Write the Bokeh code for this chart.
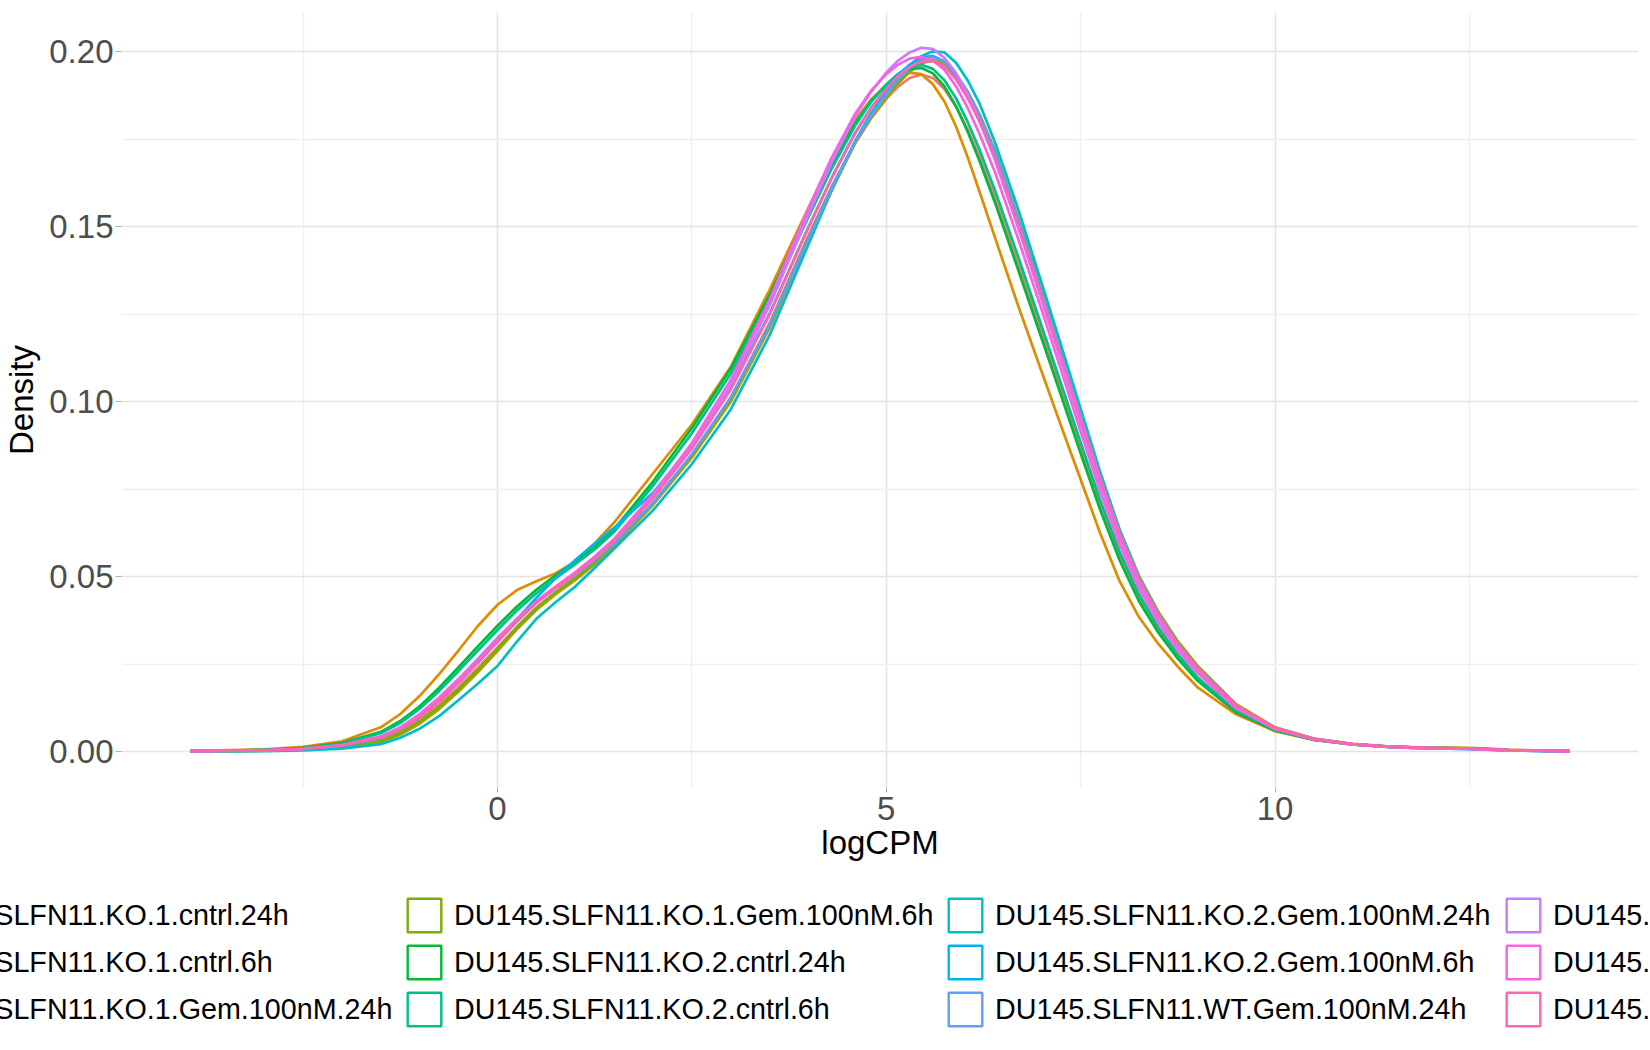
from bokeh.plotting import figure
from bokeh.layouts import column
from bokeh.models import Range1d, FixedTicker, PrintfTickFormatter, Legend, LegendItem
from bokeh.embed import file_html
from bokeh.resources import INLINE

# logCPM grid the densities were read at
logcpm = [-3.95, -3.0, -2.5, -2.0, -1.5, -1.25, -1.0, -0.75, -0.5, -0.25, 0.0, 0.25, 0.5, 0.75,
          1.0, 1.25, 1.5, 2.0, 2.5, 3.0, 3.5, 4.0, 4.3, 4.6, 4.8, 5.0, 5.15, 5.3, 5.45, 5.6,
          5.75, 5.9, 6.05, 6.2, 6.4, 6.7, 7.0, 7.25, 7.5, 7.75, 8.0, 8.25, 8.5, 8.75, 9.0,
          9.5, 10.0, 10.5, 11.0, 11.5, 12.0, 12.5, 13.0, 13.79]

samples = [
    "DU145.SLFN11.KO.1.cntrl.24h",
    "DU145.SLFN11.KO.1.cntrl.6h",
    "DU145.SLFN11.KO.1.Gem.100nM.24h",
    "DU145.SLFN11.KO.1.Gem.100nM.6h",
    "DU145.SLFN11.KO.2.cntrl.24h",
    "DU145.SLFN11.KO.2.cntrl.6h",
    "DU145.SLFN11.KO.2.Gem.100nM.24h",
    "DU145.SLFN11.KO.2.Gem.100nM.6h",
    "DU145.SLFN11.WT.Gem.100nM.24h",
    "DU145.SLFN11.WT.Gem.100nM.6h",
    "DU145.SLFN11.WT.cntrl.24h",
    "DU145.SLFN11.WT.cntrl.6h",
]

colors = ["#F8766D", "#DE8C00", "#B79F00", "#7CAE00", "#00BA38", "#00C08B",
          "#00BFC4", "#00B4F0", "#619CFF", "#C77CFF", "#F564E3", "#FF64B0"]

# density per sample, same order as logcpm
ko1_cntrl_24h = [0.0002, 0.0004, 0.0007, 0.0015, 0.0035, 0.0058, 0.0092, 0.0135, 0.0185, 0.0240, 0.0298,
                 0.0357, 0.0412, 0.0458, 0.0500, 0.0545, 0.0595,
                 0.0710, 0.0848, 0.1012, 0.1225, 0.1475,
                 0.1615, 0.1740, 0.1810, 0.1866, 0.1900, 0.1925, 0.1935, 0.1925, 0.1893, 0.1842, 0.1777,
                 0.1700, 0.1582, 0.1390, 0.1195,
                 0.1030, 0.0865, 0.0703, 0.0558, 0.0438, 0.0346, 0.0270, 0.0208,
                 0.0117, 0.0062, 0.0035, 0.0021, 0.0014, 0.0011, 0.0009, 0.0005, 0.0002]
ko1_cntrl_6h = [0.0003, 0.0007, 0.0014, 0.0030, 0.0070, 0.0108, 0.0160, 0.0222, 0.0290, 0.0360, 0.0420,
                0.0462, 0.0487, 0.0510, 0.0543, 0.0595, 0.0655,
                0.0795, 0.0935, 0.1100, 0.1320, 0.1555,
                0.1695, 0.1805, 0.1862, 0.1905, 0.1928, 0.1940, 0.1936, 0.1907, 0.1857, 0.1785, 0.1697,
                0.1600, 0.1468, 0.1272, 0.1085,
                0.0930, 0.0778, 0.0625, 0.0488, 0.0385, 0.0308, 0.0243, 0.0185,
                0.0107, 0.0059, 0.0034, 0.0021, 0.0014, 0.0011, 0.0010, 0.0005, 0.0002]
ko1_gem_24h = [0.0001, 0.0003, 0.0006, 0.0012, 0.0028, 0.0049, 0.0080, 0.0122, 0.0172, 0.0228, 0.0288,
               0.0350, 0.0405, 0.0450, 0.0490, 0.0535, 0.0587,
               0.0705, 0.0840, 0.1000, 0.1210, 0.1460,
               0.1605, 0.1738, 0.1808, 0.1866, 0.1908, 0.1942, 0.1967, 0.1977, 0.1966, 0.1934, 0.1885,
               0.1822, 0.1718, 0.1525, 0.1320,
               0.1145, 0.0970, 0.0795, 0.0635, 0.0503, 0.0400, 0.0316, 0.0247,
               0.0136, 0.0070, 0.0038, 0.0023, 0.0015, 0.0012, 0.0011, 0.0006, 0.0002]
ko1_gem_6h = [0.0002, 0.0003, 0.0007, 0.0014, 0.0031, 0.0053, 0.0086, 0.0128, 0.0178, 0.0234, 0.0294,
              0.0355, 0.0410, 0.0455, 0.0495, 0.0540, 0.0592,
              0.0710, 0.0846, 0.1008, 0.1220, 0.1470,
              0.1612, 0.1744, 0.1814, 0.1872, 0.1913, 0.1946, 0.1968, 0.1974, 0.1960, 0.1925, 0.1873,
              0.1808, 0.1703, 0.1510, 0.1305,
              0.1130, 0.0955, 0.0782, 0.0625, 0.0495, 0.0394, 0.0311, 0.0243,
              0.0134, 0.0069, 0.0037, 0.0022, 0.0014, 0.0011, 0.0010, 0.0005, 0.0002]
ko2_cntrl_24h = [0.0002, 0.0005, 0.0011, 0.0025, 0.0057, 0.0088, 0.0130, 0.0183, 0.0242, 0.0302, 0.0360,
                 0.0415, 0.0463, 0.0505, 0.0543, 0.0585, 0.0636,
                 0.0772, 0.0925, 0.1095, 0.1305, 0.1540,
                 0.1677, 0.1795, 0.1858, 0.1905, 0.1932, 0.1950, 0.1954, 0.1938, 0.1900, 0.1843, 0.1770,
                 0.1688, 0.1568, 0.1375, 0.1180,
                 0.1017, 0.0853, 0.0692, 0.0548, 0.0430, 0.0340, 0.0266, 0.0204,
                 0.0113, 0.0061, 0.0034, 0.0021, 0.0014, 0.0011, 0.0010, 0.0005, 0.0002]
ko2_cntrl_6h = [0.0002, 0.0005, 0.0010, 0.0023, 0.0053, 0.0082, 0.0123, 0.0174, 0.0231, 0.0290, 0.0348,
                0.0404, 0.0453, 0.0496, 0.0536, 0.0578, 0.0628,
                0.0760, 0.0910, 0.1080, 0.1290, 0.1528,
                0.1667, 0.1789, 0.1855, 0.1906, 0.1936, 0.1956, 0.1963, 0.1951, 0.1918, 0.1866, 0.1798,
                0.1720, 0.1603, 0.1412, 0.1215,
                0.1050, 0.0884, 0.0720, 0.0572, 0.0450, 0.0355, 0.0278, 0.0213,
                0.0118, 0.0063, 0.0035, 0.0021, 0.0014, 0.0011, 0.0009, 0.0005, 0.0002]
ko2_gem_24h = [0.0001, 0.0002, 0.0004, 0.0009, 0.0022, 0.0040, 0.0066, 0.0102, 0.0148, 0.0195, 0.0245,
               0.0315, 0.0380, 0.0428, 0.0472, 0.0525, 0.0580,
               0.0690, 0.0822, 0.0978, 0.1190, 0.1450,
               0.1605, 0.1745, 0.1822, 0.1886, 0.1929, 0.1962, 0.1987, 0.2001, 0.1998, 0.1968, 0.1917,
               0.1852, 0.1740, 0.1548, 0.1338,
               0.1160, 0.0980, 0.0800, 0.0635, 0.0500, 0.0395, 0.0310, 0.0240,
               0.0132, 0.0068, 0.0037, 0.0021, 0.0013, 0.0010, 0.0008, 0.0004, 0.0001]
ko2_gem_6h = [0.0002, 0.0004, 0.0008, 0.0017, 0.0039, 0.0064, 0.0100, 0.0145, 0.0198, 0.0255, 0.0315,
              0.0378, 0.0440, 0.0497, 0.0548, 0.0595, 0.0640,
              0.0740, 0.0875, 0.1040, 0.1252, 0.1500,
              0.1640, 0.1768, 0.1838, 0.1895, 0.1934, 0.1963, 0.1983, 0.1988, 0.1972, 0.1934, 0.1880,
              0.1813, 0.1707, 0.1512, 0.1305,
              0.1130, 0.0955, 0.0782, 0.0624, 0.0493, 0.0390, 0.0306, 0.0238,
              0.0130, 0.0067, 0.0036, 0.0021, 0.0013, 0.0010, 0.0008, 0.0004, 0.0001]
wt_gem_24h = [0.0002, 0.0004, 0.0008, 0.0018, 0.0042, 0.0068, 0.0106, 0.0153, 0.0207, 0.0266, 0.0325,
              0.0380, 0.0428, 0.0468, 0.0505, 0.0547, 0.0595,
              0.0712, 0.0850, 0.1012, 0.1220, 0.1465,
              0.1610, 0.1742, 0.1815, 0.1877, 0.1920, 0.1954, 0.1976, 0.1985, 0.1972, 0.1936, 0.1884,
              0.1818, 0.1713, 0.1518, 0.1310,
              0.1135, 0.0960, 0.0787, 0.0628, 0.0497, 0.0393, 0.0309, 0.0240,
              0.0131, 0.0068, 0.0036, 0.0021, 0.0013, 0.0010, 0.0008, 0.0004, 0.0001]
wt_gem_6h = [0.0002, 0.0004, 0.0008, 0.0018, 0.0041, 0.0066, 0.0103, 0.0148, 0.0200, 0.0256, 0.0315,
             0.0372, 0.0425, 0.0468, 0.0508, 0.0553, 0.0603,
             0.0727, 0.0872, 0.1048, 0.1275, 0.1535,
             0.1685, 0.1815, 0.1884, 0.1940, 0.1974, 0.1998, 0.2011, 0.2008, 0.1982, 0.1938, 0.1876,
             0.1802, 0.1690, 0.1495, 0.1290,
             0.1115, 0.0938, 0.0765, 0.0608, 0.0480, 0.0380, 0.0298, 0.0232,
             0.0127, 0.0066, 0.0036, 0.0021, 0.0013, 0.0010, 0.0008, 0.0004, 0.0001]
wt_cntrl_24h = [0.0002, 0.0004, 0.0009, 0.0019, 0.0044, 0.0070, 0.0108, 0.0155, 0.0208, 0.0264, 0.0322,
                0.0378, 0.0430, 0.0473, 0.0513, 0.0558, 0.0608,
                0.0735, 0.0882, 0.1062, 0.1292, 0.1552,
                0.1698, 0.1823, 0.1887, 0.1936, 0.1963, 0.1980, 0.1985, 0.1976, 0.1948, 0.1900, 0.1838,
                0.1765, 0.1655, 0.1463, 0.1262,
                0.1090, 0.0915, 0.0745, 0.0592, 0.0467, 0.0369, 0.0290, 0.0226,
                0.0124, 0.0065, 0.0035, 0.0021, 0.0014, 0.0011, 0.0009, 0.0005, 0.0002]
wt_cntrl_6h = [0.0002, 0.0004, 0.0008, 0.0018, 0.0040, 0.0065, 0.0101, 0.0146, 0.0198, 0.0255, 0.0315,
               0.0373, 0.0427, 0.0470, 0.0508, 0.0552, 0.0602,
               0.0725, 0.0866, 0.1035, 0.1250, 0.1498,
               0.1640, 0.1768, 0.1837, 0.1893, 0.1930, 0.1957, 0.1971, 0.1974, 0.1958, 0.1920, 0.1866,
               0.1800, 0.1696, 0.1503, 0.1300,
               0.1127, 0.0952, 0.0780, 0.0623, 0.0493, 0.0391, 0.0308, 0.0240,
               0.0132, 0.0069, 0.0037, 0.0022, 0.0014, 0.0011, 0.0009, 0.0005, 0.0002]

densities = [ko1_cntrl_24h, ko1_cntrl_6h, ko1_gem_24h, ko1_gem_6h, ko2_cntrl_24h, ko2_cntrl_6h,
             ko2_gem_24h, ko2_gem_6h, wt_gem_24h, wt_gem_6h, wt_cntrl_24h, wt_cntrl_6h]

x_ticks = [0, 5, 10]
x_minor = [-2.5, 2.5, 7.5, 12.5]
y_ticks = [0.0, 0.05, 0.10, 0.15, 0.20]
y_minor = [0.025, 0.075, 0.125, 0.175]

FONT = "Liberation Sans"
W = 1648

p = figure(width=W, height=880, output_backend="svg", toolbar_location=None,
           x_range=Range1d(-4.836, 14.675), y_range=Range1d(-0.0102, 0.2112),
           min_border_left=121, min_border_right=10, min_border_top=12, min_border_bottom=93)
p.outline_line_color = None
p.frame_align = False

# grid
p.xaxis.ticker = FixedTicker(ticks=x_ticks, minor_ticks=x_minor)
p.yaxis.ticker = FixedTicker(ticks=y_ticks, minor_ticks=y_minor)
p.grid.grid_line_color = "#E4E4E4"
p.grid.grid_line_width = 1.6
p.grid.minor_grid_line_color = "#EFEFEF"
p.grid.minor_grid_line_width = 1.3

# axes
p.axis.axis_line_color = None
p.axis.minor_tick_line_color = None
p.axis.major_tick_line_color = "#ABABAB"
p.axis.major_tick_line_width = 1
p.axis.major_tick_in = 0
p.axis.major_label_text_font = FONT
p.axis.major_label_text_font_size = "33px"
p.axis.major_label_text_color = "#4D4D4D"
p.axis.axis_label_text_font = FONT
p.axis.axis_label_text_font_size = "33px"
p.axis.axis_label_text_font_style = "normal"
p.axis.axis_label_text_color = "black"

p.xaxis.axis_label = "logCPM"
p.xaxis.major_tick_out = 5
p.xaxis.major_label_standoff = 4
p.xaxis.axis_label_standoff = 1

p.yaxis.axis_label = "Density"
p.yaxis.formatter = PrintfTickFormatter(format="%.2f")
p.yaxis.major_tick_out = 6
p.yaxis.major_label_standoff = 2
p.yaxis.axis_label_standoff = 6

# density curves, first sample drawn first
for dens, col in zip(densities, colors):
    p.line(logcpm, dens, line_color=col, line_width=2.7)

# legend strip under the plot; wider than the page, like the original
leg_fig = figure(width=W, height=160, output_backend="svg", toolbar_location=None,
                 x_range=Range1d(0, 1), y_range=Range1d(0, 1),
                 x_axis_location=None, y_axis_location=None, min_border=0)
leg_fig.outline_line_color = None
leg_fig.grid.visible = False
leg_fig.frame_align = False

# hidden boxes only used as the outlined-square legend keys
keys = []
for dens, col in zip(densities, colors):
    keys.append(leg_fig.quad(left=[logcpm[0]], right=[logcpm[-1]], bottom=[0], top=[max(dens)],
                             fill_color=None, line_color=col, line_width=2.4, visible=False))

col_x = [-154, 403, 944, 1502]
for c in range(4):
    items = [LegendItem(label=samples[i], renderers=[keys[i]]) for i in range(c * 3, c * 3 + 3)]
    leg = Legend(items=items, location=(col_x[c], 10), orientation="vertical",
                 padding=0, margin=0, spacing=5, glyph_width=42, glyph_height=42,
                 label_standoff=9, label_text_font=FONT, label_text_font_size="28.7px",
                 label_text_color="black", border_line_color=None, background_fill_alpha=0)
    leg_fig.add_layout(leg)

open("out.html", "w").write(file_html(column(p, leg_fig), INLINE))
